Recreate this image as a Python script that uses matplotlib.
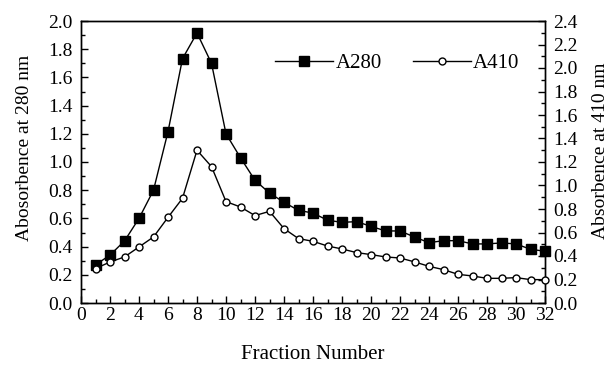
import matplotlib
matplotlib.use("Agg")
import matplotlib.pyplot as plt
from matplotlib.ticker import MultipleLocator, FormatStrFormatter

plt.rcParams['font.family'] = ['Liberation Serif', 'DejaVu Serif']

fraction = list(range(1, 33))
a280 = [0.27, 0.34, 0.44, 0.60, 0.80, 1.215, 1.733, 1.915, 1.70, 1.20,
        1.03, 0.87, 0.78, 0.714, 0.657, 0.638, 0.587, 0.572, 0.577, 0.544,
        0.511, 0.511, 0.468, 0.428, 0.442, 0.442, 0.419, 0.419, 0.426, 0.419,
        0.381, 0.367]
a410 = [0.293, 0.349, 0.392, 0.477, 0.562, 0.729, 0.891, 1.30, 1.161, 0.863,
        0.817, 0.744, 0.780, 0.633, 0.548, 0.525, 0.485, 0.46, 0.429, 0.412,
        0.392, 0.383, 0.35, 0.312, 0.284, 0.244, 0.23, 0.21, 0.21, 0.216,
        0.199, 0.199]

fig = plt.figure(figsize=(6.14, 3.65), dpi=100)
ax = fig.add_axes([81/614, 62/365, 464/614, 282/365])
ax2 = ax.twinx()

l1, = ax.plot(fraction, a280, color='black', lw=1.0, marker='s', ms=6.8,
              mfc='black', mec='black', label='A280', clip_on=False, zorder=3)
l2, = ax2.plot(fraction, a410, color='black', lw=1.0, marker='o', ms=5,
               mfc='white', mec='black', mew=1.0, label='A410', clip_on=False, zorder=3)

ax.set_xlim(0, 32)
ax.set_ylim(0, 2.0)
ax2.set_ylim(0, 2.4)

ax.xaxis.set_major_locator(MultipleLocator(2))
ax.xaxis.set_minor_locator(MultipleLocator(1))
ax.yaxis.set_major_locator(MultipleLocator(0.2))
ax.yaxis.set_minor_locator(MultipleLocator(0.1))
ax2.yaxis.set_major_locator(MultipleLocator(0.2))
ax2.yaxis.set_minor_locator(MultipleLocator(0.1))
ax.yaxis.set_major_formatter(FormatStrFormatter('%.1f'))
ax2.yaxis.set_major_formatter(FormatStrFormatter('%.1f'))

for a in (ax, ax2):
    a.tick_params(which='major', direction='in', length=5, width=1, labelsize=14, pad=2)
    a.tick_params(which='minor', direction='in', length=3, width=1)
    for s in a.spines.values():
        s.set_linewidth(1)
ax.tick_params(axis='x', which='both', top=False, pad=3)
ax.tick_params(axis='y', which='both', right=False, pad=6)
ax2.tick_params(axis='y', which='both', pad=6)

ax.set_xlabel('Fraction Number', fontsize=15, labelpad=15)
ax.set_ylabel('Abosorbence at 280 nm', fontsize=14)
ax2.set_ylabel('Absorbence at 410 nm', fontsize=14)
ax.yaxis.set_label_coords(-48/464, 0.55)
ax2.yaxis.set_label_coords(1 + 47/464, 0.54)

ax.legend(handles=[l1, l2], ncol=2, frameon=False, fontsize=15,
          loc='center left', bbox_to_anchor=(0.40, 0.85), handlelength=2.8,
          handletextpad=0.1, columnspacing=1.5, borderaxespad=0)

fig.savefig('out.png', dpi=100)
